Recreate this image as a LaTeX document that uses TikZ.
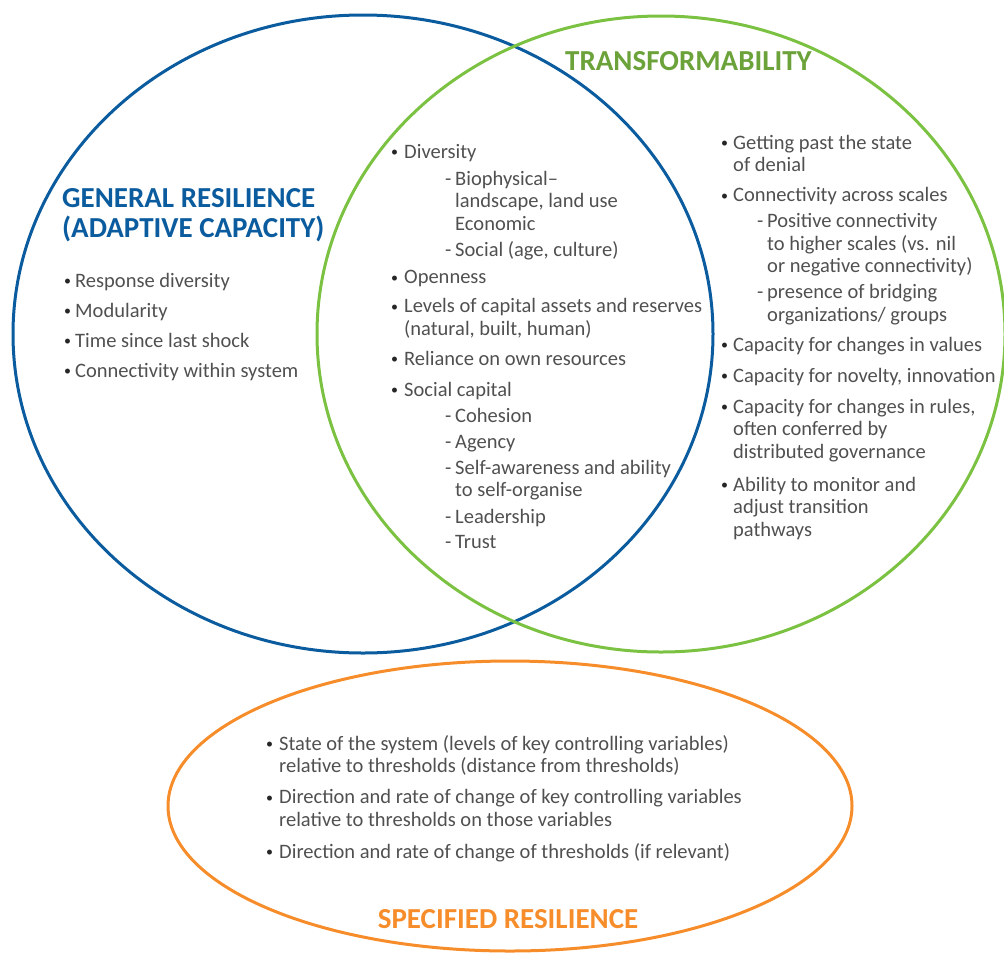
\documentclass[tikz,border=0pt]{standalone}
\usepackage{fontspec}
\setmainfont{Carlito}
\usepackage{xcolor}
\definecolor{resblue}{HTML}{0B5C9E}
\definecolor{trgreen}{HTML}{7CC242}
\definecolor{trtitle}{HTML}{6CA23A}
\definecolor{sporange}{HTML}{F68D2A}
\definecolor{txtgray}{HTML}{505050}
\newlength{\bulw}
\newlength{\dashx}
\newcommand{\bul}{\raisebox{1.5pt}{\fontsize{14}{14}\selectfont\textcolor{black!85}{\textbullet}}}
\newcommand{\bitem}[1]{\makebox[\bulw][l]{\bul}#1}
\newcommand{\bcont}[1]{\hspace*{\bulw}#1}
\newcommand{\ditem}[1]{\hspace*{\dashx}\makebox[10pt][l]{-}#1}
\newcommand{\dcont}[1]{\hspace*{\dashx}\hspace*{10pt}#1}

\begin{document}
\begin{tikzpicture}[x=1pt,y=-1pt]
  \tikzset{ring/.style = {line width=3pt}}
  \tikzset{title/.style = {font=\fontsize{29}{29}\selectfont\bfseries, inner sep=0pt, align=left}}
  \tikzset{txt/.style = {font=\fontsize{20.5}{22.5}\selectfont, text=txtgray, inner sep=0pt, anchor=base west}}

  \useasboundingbox (0,0) rectangle (1004,954);

  % the three sets
  \draw[ring, resblue] (363,334) ellipse [x radius=350, y radius=319];
  \draw[ring, trgreen] (661,334) ellipse [x radius=344, y radius=318];
  \draw[ring, sporange] (510,806) ellipse [x radius=342, y radius=145];

  % titles
  \node[title, text=resblue, anchor=base west] (gentitle) at (62,237)
    {GENERAL RESILIENCE\\[1pt](ADAPTIVE CAPACITY)};
  \node[title, text=trtitle, anchor=base west] (trtitle) at (565,70) {TRANSFORMABILITY};
  \node[title, text=sporange, anchor=base] (sptitle) at (508,928) {SPECIFIED RESILIENCE};

  % general resilience only
  \node[txt] (genlist) at (64,287) {\setlength{\bulw}{11pt}%
    \begin{tabular}[t]{@{}l@{}}
    \bitem{Response diversity}\\[7.5pt]
    \bitem{Modularity}\\[7.5pt]
    \bitem{Time since last shock}\\[7.5pt]
    \bitem{Connectivity within system}
    \end{tabular}};

  % shared by both
  \node[txt] (midlist) at (391,158) {\setlength{\bulw}{13pt}\setlength{\dashx}{54pt}%
    \begin{tabular}[t]{@{}l@{}}
    \bitem{Diversity}\\[4.5pt]
    \ditem{Biophysical--}\\
    \dcont{landscape, land use}\\
    \dcont{Economic}\\[4pt]
    \ditem{Social (age, culture)}\\[4.5pt]
    \bitem{Openness}\\[6.5pt]
    \bitem{Levels of capital assets and reserves}\\
    \bcont{(natural, built, human)}\\[7.5pt]
    \bitem{Reliance on own resources}\\[8.5pt]
    \bitem{Social capital}\\[3.5pt]
    \ditem{Cohesion}\\[3.5pt]
    \ditem{Agency}\\[3.5pt]
    \ditem{Self-awareness and ability}\\
    \dcont{to self-organise}\\[4pt]
    \ditem{Leadership}\\[3pt]
    \ditem{Trust}
    \end{tabular}};

  % transformability only
  \node[txt] (trlist) at (721,149) {\setlength{\bulw}{12pt}\setlength{\dashx}{36pt}%
    \begin{tabular}[t]{@{}l@{}}
    \bitem{Getting past the state}\\
    \bcont{of denial}\\[7.5pt]
    \bitem{Connectivity across scales}\\[3.5pt]
    \ditem{Positive connectivity}\\
    \dcont{to higher scales (vs. nil}\\
    \dcont{or negative connectivity)}\\[3.5pt]
    \ditem{presence of bridging}\\
    \dcont{organizations/ groups}\\[7.5pt]
    \bitem{Capacity for changes in values}\\[8.5pt]
    \bitem{Capacity for novelty, innovation}\\[8.5pt]
    \bitem{Capacity for changes in rules,}\\
    \bcont{often conferred by}\\
    \bcont{distributed governance}\\[10.5pt]
    \bitem{Ability to monitor and}\\
    \bcont{adjust transition}\\
    \bcont{pathways}
    \end{tabular}};

  % specified resilience
  \node[txt] (splist) at (266,750) {\setlength{\bulw}{13pt}%
    \begin{tabular}[t]{@{}l@{}}
    \bitem{State of the system (levels of key controlling variables)}\\
    \bcont{relative to thresholds (distance from thresholds)}\\[8.5pt]
    \bitem{Direction and rate of change of key controlling variables}\\
    \bcont{relative to thresholds on those variables}\\[9.5pt]
    \bitem{Direction and rate of change of thresholds (if relevant)}
    \end{tabular}};
\end{tikzpicture}
\end{document}
